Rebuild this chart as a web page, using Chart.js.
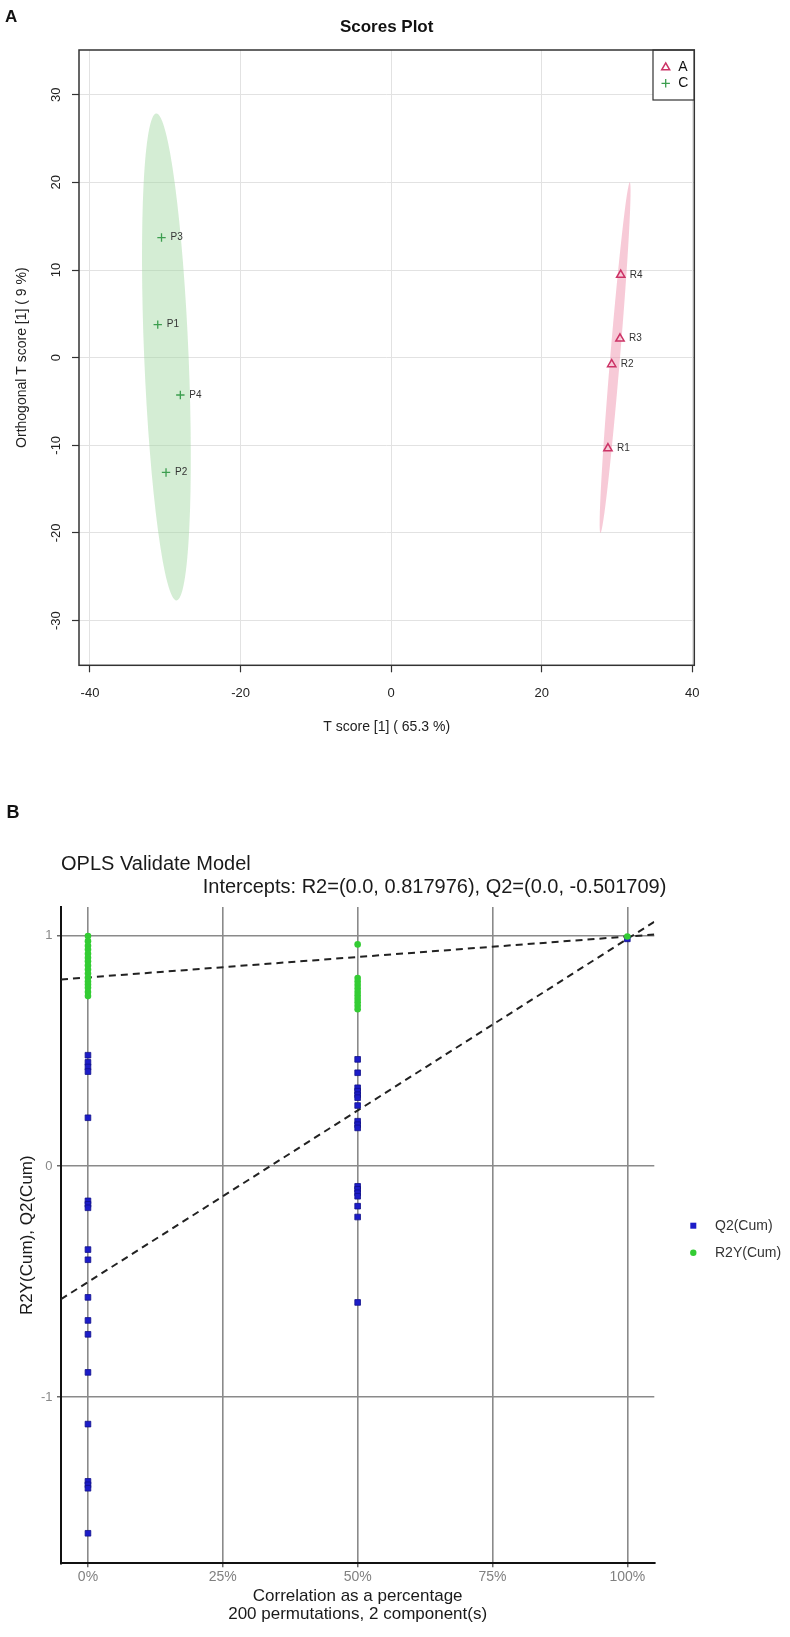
<!DOCTYPE html>
<html><head><meta charset="utf-8">
<script src="https://cdn.jsdelivr.net/npm/chart.js@4.4.1/dist/chart.umd.min.js"></script>
<style>
html,body{margin:0;padding:0;background:#fff;overflow:hidden;}
#wrap{position:relative;width:790px;height:1637px;background:#fff;}
canvas{position:absolute;left:0;}
#cA{top:0;} #cB{top:760px;}
</style></head><body>
<div id="wrap">
<canvas id="cA" width="790" height="760"></canvas>
<canvas id="cB" width="790" height="877"></canvas>
</div>
<script>
// ---------- Panel A data (Scores Plot) ----------
const groupALabels = ['R1', 'R2', 'R3', 'R4'];
const groupAX = [28.8, 29.3, 30.4, 30.5];
const groupAY = [-10.35, -0.76, 2.17, 9.44];
const groupCLabels = ['P1', 'P2', 'P3', 'P4'];
const groupCX = [-31.0, -29.9, -30.5, -28.0];
const groupCY = [3.77, -13.1, 13.7, -4.26];
const scoreXTicks = [-40, -20, 0, 20, 40];
const scoreYTicks = [-30, -20, -10, 0, 10, 20, 30];
// confidence ellipses: tips of the long axis and half width (x units)
const ellipseGroups = ['C', 'A'];
const ellipseTopX = [-31.2, 31.7];
const ellipseTopY = [27.85, 20.0];
const ellipseBottomX = [-28.5, 27.8];
const ellipseBottomY = [-27.7, -20.0];
const ellipseHalfWidth = [2.95, 0.65];

// ---------- Panel B data (OPLS Validate Model) ----------
const q2At0 = [0.481, 0.45, 0.43, 0.41, 0.21, -0.15, -0.165, -0.18, -0.361, -0.405, -0.568, -0.668, -0.728, -0.893, -1.117, -1.365, -1.38, -1.395, -1.59];
const q2At50 = [0.463, 0.405, 0.34, 0.325, 0.31, 0.297, 0.263, 0.195, 0.18, 0.166, -0.087, -0.1, -0.115, -0.13, -0.173, -0.22, -0.59];
const q2At100 = [0.985];
const r2yAt0 = [0.997, 0.975, 0.955, 0.939, 0.92, 0.903, 0.888, 0.87, 0.852, 0.835, 0.816, 0.8, 0.787, 0.773, 0.755, 0.737];
const r2yAt50 = [0.961, 0.815, 0.8, 0.785, 0.77, 0.755, 0.74, 0.725, 0.71, 0.695, 0.68];
const r2yAt100 = [0.995];
const lineX = [-5, 105];
const r2LineY = [0.809, 1.004];
const q2LineY = [-0.576, 1.059];
const corrXTicks = [0, 25, 50, 75, 100];
const corrYTicks = [-1, 0, 1];
const interceptText = 'Intercepts: R2=(0.0, 0.817976), Q2=(0.0, -0.501709)';

const FONT = "'Liberation Sans', Arial, Helvetica, sans-serif";
Chart.defaults.font.family = FONT;

function pts(xs, ys) { return xs.map((x, i) => ({x: x, y: ys[i]})); }
function col(xv, ys) { return ys.map(y => ({x: xv, y: y})); }

const C_TRI = '#cc3366';
const C_PLUS = '#3c9e4f';

// ---------- Panel A plugins ----------
const ellipsePlugin = {
  id: 'ellipses',
  beforeDatasetsDraw(chart) {
    const {ctx, chartArea: a} = chart;
    const sx = chart.scales.x, sy = chart.scales.y;
    const fills = ['rgba(160,215,160,0.45)', 'rgba(240,150,175,0.5)'];
    ctx.save();
    ctx.beginPath(); ctx.rect(a.left, a.top, a.right - a.left, a.bottom - a.top); ctx.clip();
    ellipseGroups.forEach((g, i) => {
      const x1 = sx.getPixelForValue(ellipseTopX[i]), y1 = sy.getPixelForValue(ellipseTopY[i]);
      const x2 = sx.getPixelForValue(ellipseBottomX[i]), y2 = sy.getPixelForValue(ellipseBottomY[i]);
      const cx = (x1 + x2) / 2, cy = (y1 + y2) / 2;
      const rMaj = Math.hypot(x2 - x1, y2 - y1) / 2;
      const rMin = Math.abs(sx.getPixelForValue(ellipseHalfWidth[i]) - sx.getPixelForValue(0));
      const ang = Math.atan2(y2 - y1, x2 - x1);
      ctx.beginPath();
      ctx.ellipse(cx, cy, rMaj, rMin, ang, 0, Math.PI * 2);
      ctx.fillStyle = fills[i];
      ctx.fill();
    });
    ctx.restore();
  }
};

const pointLabelPlugin = {
  id: 'pointLabels',
  afterDatasetsDraw(chart) {
    const ctx = chart.ctx;
    ctx.save();
    ctx.font = '10px ' + FONT;
    ctx.fillStyle = '#333';
    ctx.textBaseline = 'middle';
    ctx.textAlign = 'left';
    chart.data.datasets.forEach((ds, di) => {
      const meta = chart.getDatasetMeta(di);
      meta.data.forEach((el, i) => ctx.fillText(ds.pointLabels[i], el.x + 9, el.y));
    });
    ctx.restore();
  }
};

function drawTri(ctx, x, y, r, color) {
  ctx.beginPath();
  for (let k = 0; k < 3; k++) {
    const ang = k * 2 * Math.PI / 3;
    const px = x + Math.sin(ang) * r, py = y - Math.cos(ang) * r;
    if (k === 0) ctx.moveTo(px, py); else ctx.lineTo(px, py);
  }
  ctx.closePath();
  ctx.strokeStyle = color; ctx.lineWidth = 1.5; ctx.stroke();
}
function drawPlus(ctx, x, y, r, color) {
  ctx.beginPath();
  ctx.moveTo(x - r, y); ctx.lineTo(x + r, y);
  ctx.moveTo(x, y - r); ctx.lineTo(x, y + r);
  ctx.strokeStyle = color; ctx.lineWidth = 1.3; ctx.stroke();
}

const frameAPlugin = {
  id: 'frameA',
  afterDraw(chart) {
    const {ctx, chartArea: a} = chart;
    ctx.save();
    // legend box
    const bw = 41.3, bh = 50, bx = a.right - bw, by = a.top;
    ctx.fillStyle = '#fff'; ctx.fillRect(bx, by, bw, bh);
    ctx.strokeStyle = '#333'; ctx.lineWidth = 1.2; ctx.strokeRect(bx, by, bw, bh);
    drawTri(ctx, bx + 12.7, by + 17.5, 4.6, C_TRI);
    drawPlus(ctx, bx + 12.7, by + 33.3, 4.2, C_PLUS);
    ctx.fillStyle = '#111'; ctx.font = '14px ' + FONT; ctx.textBaseline = 'middle'; ctx.textAlign = 'left';
    ctx.fillText('A', bx + 25.3, by + 16.7);
    ctx.fillText('C', bx + 25.3, by + 33.3);
    // frame
    ctx.strokeStyle = '#333'; ctx.lineWidth = 1.5;
    ctx.strokeRect(a.left, a.top, a.right - a.left, a.bottom - a.top);
    // titles
    ctx.fillStyle = '#111'; ctx.textBaseline = 'alphabetic';
    ctx.font = 'bold 17px ' + FONT; ctx.textAlign = 'left';
    ctx.fillText('A', 5, 21.7);
    ctx.textAlign = 'center';
    ctx.fillText('Scores Plot', (a.left + a.right) / 2, 32.3);
    ctx.restore();
  }
};

new Chart(document.getElementById('cA'), {
  type: 'scatter',
  data: {
    datasets: [
      {label: 'A', data: pts(groupAX, groupAY), pointLabels: groupALabels, pointStyle: 'triangle',
       pointRadius: 4.8, backgroundColor: 'rgba(0,0,0,0)', borderColor: C_TRI, borderWidth: 1.5},
      {label: 'C', data: pts(groupCX, groupCY), pointLabels: groupCLabels, pointStyle: 'cross',
       pointRadius: 4.2, backgroundColor: C_PLUS, borderColor: C_PLUS, borderWidth: 1.3}
    ]
  },
  options: {
    responsive: false, animation: false, events: [],
    layout: {padding: {top: 50, right: 95.7, left: 0, bottom: 0}},
    plugins: {legend: {display: false}, tooltip: {enabled: false}, title: {display: false}},
    scales: {
      x: {
        type: 'linear', min: -41.46, max: 40.27,
        afterBuildTicks: s => { s.ticks = scoreXTicks.map(v => ({value: v})); },
        afterFit: s => { s.height = 94.7; },
        grid: {color: '#e2e2e2', lineWidth: 1, tickLength: 7, tickColor: '#333', tickWidth: 1.2},
        border: {display: false},
        ticks: {padding: 13, font: {size: 13}, color: '#222', maxRotation: 0, autoSkip: false},
        title: {display: true, text: 'T score [1] ( 65.3 %)', font: {size: 14}, color: '#222', padding: {top: 24.6, bottom: 24.6}}
      },
      y: {
        type: 'linear', min: -35.1, max: 35.1,
        afterBuildTicks: s => { s.ticks = scoreYTicks.map(v => ({value: v})); },
        afterFit: s => { s.width = 79; },
        grid: {color: '#e2e2e2', lineWidth: 1, tickLength: 7, tickColor: '#333', tickWidth: 1.2},
        border: {display: false},
        ticks: {padding: 6, font: {size: 13}, color: '#222', minRotation: 90, maxRotation: 90, crossAlign: 'center', autoSkip: false},
        title: {display: true, text: 'Orthogonal T score [1] ( 9 %)', font: {size: 14}, color: '#222', padding: {top: 14.1, bottom: 14.1}}
      }
    }
  },
  plugins: [ellipsePlugin, pointLabelPlugin, frameAPlugin]
});

// ---------- Panel B ----------
const C_Q2 = '#1c1cc8';
const C_R2 = '#33cc33';

const textBPlugin = {
  id: 'textB',
  afterDraw(chart) {
    const ctx = chart.ctx;
    ctx.save();
    ctx.fillStyle = '#111'; ctx.textBaseline = 'alphabetic'; ctx.textAlign = 'left';
    ctx.font = 'bold 18px ' + FONT;
    ctx.fillText('B', 6.5, 58);
    ctx.font = '20px ' + FONT; ctx.fillStyle = '#1a1a1a';
    ctx.fillText('OPLS Validate Model', 61, 110);
    ctx.fillText(interceptText, 202.7, 133.3);
    // legend
    ctx.fillStyle = C_Q2; ctx.fillRect(693.3 - 3, 465.7 - 3, 6, 6);
    ctx.beginPath(); ctx.arc(693.3, 492.7, 3.2, 0, Math.PI * 2); ctx.fillStyle = C_R2; ctx.fill();
    ctx.fillStyle = '#333'; ctx.font = '14px ' + FONT; ctx.textBaseline = 'middle';
    ctx.fillText('Q2(Cum)', 715, 465.7);
    ctx.fillText('R2Y(Cum)', 715, 492.7);
    ctx.restore();
  }
};

const q2Style = {pointStyle: 'rect', pointRadius: 4, backgroundColor: C_Q2, borderColor: '#10108a', borderWidth: 0.8};
const r2Style = {pointStyle: 'circle', pointRadius: 3.3, backgroundColor: C_R2, borderColor: C_R2, borderWidth: 0};

new Chart(document.getElementById('cB'), {
  type: 'scatter',
  data: {
    datasets: [
      Object.assign({label: 'R2Y(Cum) 0%', data: col(0, r2yAt0)}, r2Style),
      Object.assign({label: 'R2Y(Cum) 50%', data: col(50, r2yAt50)}, r2Style),
      Object.assign({label: 'R2Y(Cum)', data: col(100, r2yAt100)}, r2Style),
      Object.assign({label: 'Q2(Cum) 0%', data: col(0, q2At0)}, q2Style),
      Object.assign({label: 'Q2(Cum) 50%', data: col(50, q2At50)}, q2Style),
      Object.assign({label: 'Q2(Cum)', data: col(100, q2At100)}, q2Style),
      {label: 'R2 regression', data: pts(lineX, r2LineY), showLine: true, pointRadius: 0, borderColor: '#222', borderWidth: 2, borderDash: [7, 5], fill: false},
      {label: 'Q2 regression', data: pts(lineX, q2LineY), showLine: true, pointRadius: 0, borderColor: '#222', borderWidth: 2, borderDash: [7, 5], fill: false}
    ]
  },
  options: {
    responsive: false, animation: false, events: [],
    layout: {padding: {top: 147, right: 135.7, left: 0, bottom: 0}},
    plugins: {legend: {display: false}, tooltip: {enabled: false}, title: {display: false}},
    scales: {
      x: {
        type: 'linear', min: -5, max: 105,
        afterBuildTicks: s => { s.ticks = corrXTicks.map(v => ({value: v})); },
        afterFit: s => { s.height = 73.7; },
        grid: {color: '#8a8a8a', lineWidth: 1.6, tickLength: 4, tickColor: '#444', tickWidth: 1.2},
        border: {display: true, color: '#111', width: 2},
        ticks: {padding: 1, font: {size: 14}, color: '#808080', maxRotation: 0, autoSkip: false, callback: v => v + '%'},
        title: {display: true, text: ['Correlation as a percentage', '200 permutations, 2 component(s)'],
                font: {size: 17, lineHeight: 1.08}, color: '#1a1a1a', padding: {top: 13.5, bottom: 13.5}}
      },
      y: {
        type: 'linear', min: -1.72, max: 1.123,
        afterBuildTicks: s => { s.ticks = corrYTicks.map(v => ({value: v})); },
        afterFit: s => { s.width = 61; },
        grid: {color: '#8a8a8a', lineWidth: 1.6, tickLength: 4, tickColor: '#444', tickWidth: 1.2},
        border: {display: true, color: '#111', width: 2},
        ticks: {padding: 4.5, font: {size: 13}, color: '#888', autoSkip: false},
        title: {display: true, text: 'R2Y(Cum), Q2(Cum)', font: {size: 17}, color: '#1a1a1a', padding: {top: 16.8, bottom: 16.8}}
      }
    }
  },
  plugins: [textBPlugin]
});
</script>
</body></html>
